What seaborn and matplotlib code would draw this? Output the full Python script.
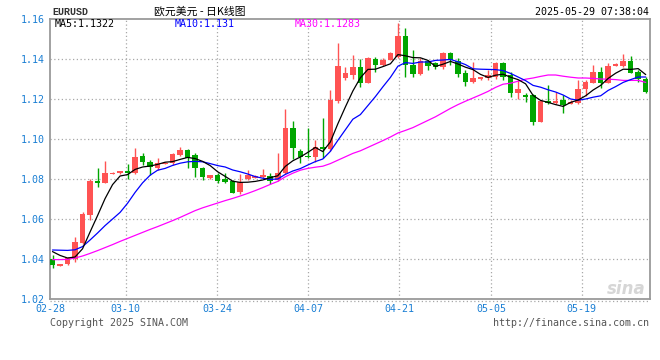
import numpy as np
import pandas as pd
import matplotlib
matplotlib.use("Agg")
import matplotlib.pyplot as plt
from matplotlib.lines import Line2D
import seaborn as sns

# ---------------- data ----------------
opens = [1.0400, 1.0366, 1.0375, 1.0400, 1.0480, 1.0622, 1.0792, 1.0782, 1.0825, 1.0828,
         1.0840, 1.0830, 1.0915, 1.0887, 1.0855, 1.0876, 1.0878, 1.0920, 1.0945, 1.0920,
         1.0853, 1.0804, 1.0820, 1.0798, 1.0792, 1.0737, 1.0800, 1.0807, 1.0809, 1.0815,
         1.0795, 1.0830, 1.1055, 1.0940, 1.0915, 1.0912, 1.0962, 1.0950, 1.1192, 1.1305,
         1.1320, 1.1362, 1.1282, 1.1398, 1.1370, 1.1397, 1.1412, 1.1515, 1.1370, 1.1325,
         1.1390, 1.1381, 1.1362, 1.1428, 1.1390, 1.1332, 1.1287, 1.1299, 1.1304, 1.1310,
         1.1378, 1.1320, 1.1229, 1.1220, 1.1220, 1.1087, 1.1190, 1.1179, 1.1195, 1.1175,
         1.1179, 1.1248, 1.1282, 1.1335, 1.1282, 1.1365, 1.1365, 1.1388, 1.1335, 1.1298]
highs = [1.0420, 1.0376, 1.0412, 1.0508, 1.0637, 1.0800, 1.0853, 1.0890, 1.0833, 1.0842,
         1.0875, 1.0953, 1.0928, 1.0895, 1.0903, 1.0885, 1.0932, 1.0960, 1.0949, 1.0929,
         1.0862, 1.0822, 1.0829, 1.0828, 1.0795, 1.0825, 1.0845, 1.0818, 1.0850, 1.0832,
         1.0928, 1.1150, 1.1090, 1.0949, 1.1053, 1.0995, 1.1103, 1.1245, 1.1482, 1.1362,
         1.1420, 1.1400, 1.1412, 1.1412, 1.1405, 1.1437, 1.1580, 1.1555, 1.1445, 1.1405,
         1.1397, 1.1387, 1.1433, 1.1437, 1.1405, 1.1345, 1.1387, 1.1310, 1.1345, 1.1383,
         1.1387, 1.1337, 1.1295, 1.1232, 1.1225, 1.1195, 1.1270, 1.1237, 1.1220, 1.1195,
         1.1295, 1.1295, 1.1370, 1.1362, 1.1378, 1.1378, 1.1425, 1.1415, 1.1345, 1.1312]
lows = [1.0355, 1.0364, 1.0372, 1.0385, 1.0475, 1.0595, 1.0762, 1.0778, 1.0824, 1.0826,
        1.0800, 1.0826, 1.0870, 1.0820, 1.0845, 1.0873, 1.0870, 1.0915, 1.0854, 1.0812,
        1.0795, 1.0802, 1.0780, 1.0782, 1.0728, 1.0727, 1.0795, 1.0805, 1.0805, 1.0775,
        1.0790, 1.0825, 1.0900, 1.0878, 1.0903, 1.0885, 1.0904, 1.0940, 1.1180, 1.1295,
        1.1300, 1.1262, 1.1278, 1.1337, 1.1365, 1.1393, 1.1405, 1.1312, 1.1310, 1.1320,
        1.1345, 1.1348, 1.1352, 1.1370, 1.1312, 1.1267, 1.1278, 1.1297, 1.1295, 1.1300,
        1.1295, 1.1212, 1.1198, 1.1187, 1.1070, 1.1085, 1.1177, 1.1177, 1.1132, 1.1173,
        1.1175, 1.1215, 1.1280, 1.1254, 1.1280, 1.1363, 1.1362, 1.1328, 1.1287, 1.1229]
closes = [1.0370, 1.0374, 1.0403, 1.0483, 1.0627, 1.0790, 1.0782, 1.0830, 1.0832, 1.0840,
          1.0828, 1.0912, 1.0887, 1.0858, 1.0882, 1.0882, 1.0925, 1.0945, 1.0904, 1.0854,
          1.0812, 1.0820, 1.0792, 1.0787, 1.0732, 1.0785, 1.0822, 1.0814, 1.0820, 1.0792,
          1.0832, 1.1057, 1.0955, 1.0912, 1.0908, 1.0960, 1.0950, 1.1195, 1.1365, 1.1328,
          1.1362, 1.1282, 1.1403, 1.1370, 1.1395, 1.1428, 1.1515, 1.1370, 1.1325, 1.1390,
          1.1367, 1.1361, 1.1428, 1.1395, 1.1324, 1.1287, 1.1303, 1.1308, 1.1320, 1.1378,
          1.1312, 1.1229, 1.1248, 1.1212, 1.1087, 1.1190, 1.1179, 1.1190, 1.1170, 1.1187,
          1.1248, 1.1287, 1.1335, 1.1282, 1.1365, 1.1375, 1.1388, 1.1332, 1.1298, 1.1237]
ma5 = [1.0437, 1.0418, 1.0405, 1.0410, 1.0451, 1.0535, 1.0617, 1.0702, 1.0772, 1.0815,
       1.0822, 1.0848, 1.0860, 1.0865, 1.0873, 1.0884, 1.0887, 1.0898, 1.0908, 1.0902,
       1.0888, 1.0867, 1.0836, 1.0813, 1.0789, 1.0783, 1.0784, 1.0788, 1.0795, 1.0807,
       1.0816, 1.0863, 1.0891, 1.0910, 1.0933, 1.0958, 1.0937, 1.0985, 1.1076, 1.1160,
       1.1240, 1.1306, 1.1348, 1.1349, 1.1362, 1.1376, 1.1422, 1.1416, 1.1407, 1.1406,
       1.1393, 1.1363, 1.1374, 1.1388, 1.1375, 1.1359, 1.1347, 1.1323, 1.1308, 1.1319,
       1.1324, 1.1309, 1.1297, 1.1276, 1.1218, 1.1193, 1.1183, 1.1172, 1.1163, 1.1183,
       1.1195, 1.1216, 1.1245, 1.1268, 1.1303, 1.1329, 1.1349, 1.1348, 1.1352, 1.1322]
ma10 = [1.0445, 1.0444, 1.0443, 1.0446, 1.0462, 1.0495, 1.0530, 1.0567, 1.0600, 1.0633,
        1.0679, 1.0733, 1.0781, 1.0819, 1.0844, 1.0853, 1.0868, 1.0879, 1.0886, 1.0888,
        1.0886, 1.0877, 1.0867, 1.0860, 1.0845, 1.0836, 1.0825, 1.0812, 1.0804, 1.0798,
        1.0800, 1.0823, 1.0840, 1.0852, 1.0870, 1.0887, 1.0900, 1.0938, 1.0993, 1.1046,
        1.1099, 1.1122, 1.1167, 1.1212, 1.1261, 1.1308, 1.1364, 1.1382, 1.1378, 1.1385,
        1.1385, 1.1393, 1.1395, 1.1398, 1.1386, 1.1372, 1.1351, 1.1349, 1.1348, 1.1347,
        1.1342, 1.1328, 1.1310, 1.1292, 1.1268, 1.1259, 1.1246, 1.1235, 1.1220, 1.1200,
        1.1194, 1.1200, 1.1209, 1.1216, 1.1243, 1.1262, 1.1283, 1.1297, 1.1310, 1.1310]
ma30 = [1.0397, 1.0397, 1.0398, 1.0405, 1.0415, 1.0428, 1.0442, 1.0457, 1.0472, 1.0488,
        1.0503, 1.0518, 1.0533, 1.0548, 1.0562, 1.0577, 1.0592, 1.0608, 1.0625, 1.0642,
        1.0656, 1.0668, 1.0680, 1.0692, 1.0703, 1.0715, 1.0728, 1.0742, 1.0757, 1.0773,
        1.0788, 1.0811, 1.0829, 1.0844, 1.0853, 1.0859, 1.0864, 1.0877, 1.0894, 1.0911,
        1.0928, 1.0941, 1.0958, 1.0975, 1.0992, 1.1010, 1.1030, 1.1043, 1.1057, 1.1075,
        1.1093, 1.1111, 1.1132, 1.1153, 1.1172, 1.1189, 1.1205, 1.1221, 1.1238, 1.1258,
        1.1274, 1.1279, 1.1289, 1.1299, 1.1305, 1.1313, 1.1320, 1.1320, 1.1314, 1.1309,
        1.1305, 1.1305, 1.1303, 1.1300, 1.1299, 1.1297, 1.1293, 1.1293, 1.1293, 1.1283]
y_ticks = [1.02, 1.04, 1.06, 1.08, 1.10, 1.12, 1.14, 1.16]
x_labels = ["02-28", "03-10", "03-24", "04-07", "04-21", "05-05", "05-19"]
legend_texts = ["MA5:1.1322", "MA10:1.131", "MA30:1.1283"]
title_text = "欧元美元 - 日K线图"
symbol_text = "EURUSD"
time_text = "2025-05-29 07:38:04"

# ---------------- styling / layout ----------------
W, H = 660, 360
RED, GREEN = "#ff5353", "#00a600"
TICK_BLUE = "#1a7fd4"
GRID_C = "#a8a8a8"
sns.set_style("white")
plt.rcParams["font.family"] = ["DejaVu Sans Mono", "DejaVu Sans"]

fig = plt.figure(figsize=(W / 100, H / 100), dpi=100)
ax = fig.add_axes([50 / W, (H - 299) / H, 600 / W, 280 / H])

step = 7.509          # pixels per candle
first_px = 52.5       # pixel of first candle
def px2i(px):
    return (px - first_px) / step

n = len(closes)
idx = np.arange(n)
df = pd.DataFrame({"i": idx, "open": opens, "high": highs, "low": lows, "close": closes,
                   "MA5": ma5, "MA10": ma10, "MA30": ma30})
df["up"] = df["close"] >= df["open"]
df["color"] = np.where(df["up"], RED, GREEN)
df["bottom"] = df[["open", "close"]].min(axis=1)
df["height"] = (df["close"] - df["open"]).abs().clip(lower=0.0006)

ax.set_xlim(px2i(50), px2i(650))
ax.set_ylim(1.02, 1.16)

# grid
grid_px = [125.7, 217.3, 308.3, 399.3, 491.0, 581.7]
for g in grid_px:
    ax.axvline(px2i(g), color=GRID_C, lw=0.9, ls=(0, (1, 2)), zorder=0)
for yv in y_ticks[1:-1]:
    ax.axhline(yv, color=GRID_C, lw=0.9, ls=(0, (1, 2)), zorder=0)

# candles
ax.vlines(df["i"], df["low"], df["high"], colors=df["color"], lw=1.0, zorder=2)
ax.bar(df["i"], df["height"], bottom=df["bottom"], width=0.74, color=df["color"],
       linewidth=0, zorder=3)

# moving averages
sns.lineplot(data=df, x="i", y="MA30", color="#ff00ff", lw=0.9, ax=ax, zorder=4)
sns.lineplot(data=df, x="i", y="MA10", color="#0000ff", lw=0.9, ax=ax, zorder=5)
sns.lineplot(data=df, x="i", y="MA5", color="#000000", lw=0.9, ax=ax, zorder=6)

ax.set_xlabel("")
ax.set_ylabel("")

# ticks
ax.set_yticks(y_ticks)
ax.set_yticklabels([f"{v:.2f}" for v in y_ticks])
tick_pos = [px2i(50)] + [px2i(g) for g in grid_px]
ax.set_xticks(tick_pos)
ax.set_xticklabels(x_labels)
ax.tick_params(axis="both", length=0, labelsize=7.2, labelcolor=TICK_BLUE)
ax.tick_params(axis="y", pad=3.5)
ax.tick_params(axis="x", pad=3.5)

for s in ["top", "right", "left", "bottom"]:
    ax.spines[s].set_color("#9a9a9a")
    ax.spines[s].set_linewidth(1.3)
    ax.spines[s].set_visible(True)

# dotted line under the axis
fig.add_artist(Line2D([50 / W, 650 / W], [1 - 301 / H, 1 - 301 / H],
                      transform=fig.transFigure, color=GRID_C, lw=0.9, ls=(0, (1, 2))))

def ftext(x, y, s, **kw):
    fig.text(x / W, 1 - y / H, s, **kw)

# header texts
ftext(52, 12, symbol_text, family="Liberation Mono", fontsize=7.2, fontweight="bold",
      color="#333333", ha="left", va="center")
ftext(200, 11, title_text, family=["Noto Sans CJK SC", "DejaVu Sans"], fontsize=7.8,
      color="#000000", ha="center", va="center")
ftext(649, 12, time_text, fontsize=7.2, color="#000000", ha="right", va="center")

# legend inside axes
ftext(55, 24, legend_texts[0], fontsize=7.2, color="#000000", ha="left", va="center")
ftext(175, 24, legend_texts[1], fontsize=7.2, color="#0000ff", ha="left", va="center")
ftext(295, 24, legend_texts[2], fontsize=7.2, color="#ff00ff", ha="left", va="center")

# watermark
ftext(646, 289, "sina", fontsize=12, fontstyle="italic", fontweight="bold",
      family="DejaVu Sans", color="#d6d6d6", ha="right", va="center")

# footer
ftext(50, 323, "Copyright 2025 SINA.COM", fontsize=7.2, color="#555555", ha="left", va="center")
ftext(649, 323, "http://finance.sina.com.cn", fontsize=7.2, color="#555555", ha="right", va="center")

fig.savefig("out.png", dpi=100)
